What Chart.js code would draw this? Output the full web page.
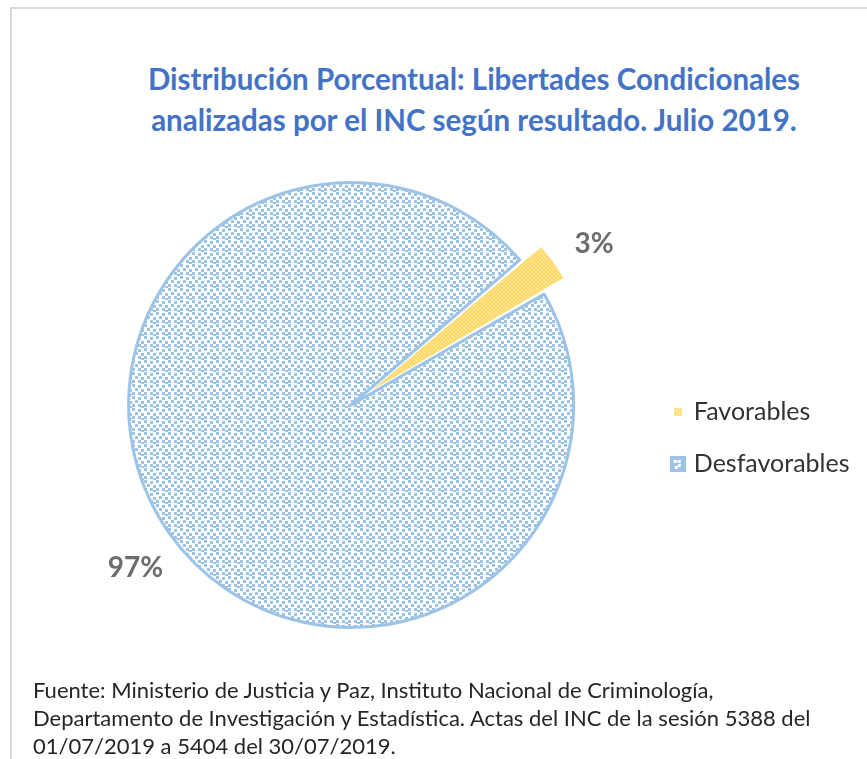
<!DOCTYPE html>
<html>
<head>
<meta charset="utf-8">
<script src="https://cdn.jsdelivr.net/npm/chart.js@4.4.0/dist/chart.umd.min.js"></script>
<style>
  body { margin: 0; background: #fff; width: 867px; height: 759px; overflow: hidden; position: relative; font-family: Lato, sans-serif; }
  #frame { position: absolute; left: 10px; top: 7px; width: 900px; height: 800px; border: 2px solid #d9d9d9; }
  #title { position: absolute; left: 74px; width: 800px; top: 58px; text-align: center; color: #4472c4; font-weight: bold; font-size: 29.5px; line-height: 41px; }
  #note { position: absolute; left: 33px; top: 676px; color: #262626; font-size: 22px; line-height: 28px; white-space: nowrap; }
  #chart { position: absolute; left: 0; top: 0; }
</style>
</head>
<body>
<div id="frame"></div>
<div id="title">Distribución Porcentual: Libertades Condicionales<br>analizadas por el INC según resultado. Julio 2019.</div>
<canvas id="chart" width="867" height="759"></canvas>
<div id="note">Fuente: Ministerio de Justicia y Paz, Instituto Nacional de Criminología,<br>Departamento de Investigación y Estadística. Actas del INC de la sesión 5388 del<br>01/07/2019 a 5404 del 30/07/2019.</div>
<script>
// data
var labels = ["Favorables", "Desfavorables"];
var values = [3, 97];

var yellow = "#ffd966";
var blue = "#9dc3e6";

// small tiles for the excel-like pattern fills
function makeTile(w, h, bg, fg, dots, size) {
  var c = document.createElement("canvas");
  c.width = w;
  c.height = h;
  var g = c.getContext("2d");
  g.fillStyle = bg;
  g.fillRect(0, 0, w, h);
  g.fillStyle = fg;
  dots.forEach(function (d) {
    g.fillRect(d[0], d[1], size, size);
  });
  return c;
}

var ctx = document.getElementById("chart").getContext("2d");
var favPattern = ctx.createPattern(makeTile(4, 4, yellow, "#ffffff", [[0, 0], [2, 2]], 1), "repeat");
var desPattern = ctx.createPattern(makeTile(12, 12, "#ffffff", blue,
  [[0, 0], [6, 1], [3, 4], [9, 5], [0, 8], [6, 8], [9, 10]], 3), "repeat");

// legend markers
var favMarker = makeTile(8, 8, "#ffe28a", "#ffffff", [[2, 2], [5, 5]], 1);
var desMarker = makeTile(16, 16, blue, "#ffffff", [[4, 4], [8, 4], [8, 8], [5, 10]], 3);
var markers = [favMarker, desMarker];

var total = values.reduce(function (a, b) { return a + b; }, 0);

// percent labels outside the slices (excel puts them a bit off the radial line)
var labelNudge = [[2, 6], [10, 0]];
var outsideLabels = {
  id: "outsideLabels",
  afterDatasetsDraw: function (chart) {
    var c = chart.ctx;
    var meta = chart.getDatasetMeta(0);
    c.save();
    c.font = "bold 28px Lato";
    c.fillStyle = "#6d6d6d";
    c.textAlign = "center";
    c.textBaseline = "middle";
    meta.data.forEach(function (arc, i) {
      var p = arc.getProps(["x", "y", "startAngle", "endAngle", "outerRadius", "circumference"]);
      var mid = (p.startAngle + p.endAngle) / 2;
      var off = (arc.options.offset || 0) / 4;
      var fix = 1 - Math.sin(Math.min(Math.PI, p.circumference));
      var edge = p.outerRadius + off + off * fix + arc.options.borderWidth / 2;
      var txt = Math.round(values[i] / total * 100) + "%";
      var w = c.measureText(txt).width;
      var h = 20;
      var cos = Math.cos(mid), sin = Math.sin(mid);
      var d = edge + 24 + Math.abs(cos) * w / 2 + Math.abs(sin) * h / 2;
      c.fillText(txt, p.x + cos * d + labelNudge[i][0], p.y + sin * d + 3 + labelNudge[i][1]);
    });
    c.restore();
  }
};

var myChart = new Chart(ctx, {
  type: "pie",
  data: {
    labels: labels,
    datasets: [{
      data: values,
      backgroundColor: [favPattern, desPattern],
      borderColor: ["#ffffff", blue],
      borderWidth: [2, 3],
      offset: [57, 0]
    }]
  },
  options: {
    responsive: false,
    animation: false,
    events: [],
    rotation: 49.3,
    radius: 222.5,
    layout: { padding: { left: 55, right: 7.5, top: 180, bottom: 129 } },
    plugins: {
      tooltip: { enabled: false },
      legend: {
        position: "right",
        title: { display: true, text: "", font: { size: 10 }, padding: { top: 54, bottom: 0 } },
        labels: {
          usePointStyle: true,
          pointStyleWidth: 7,
          padding: 27,
          color: "#333333",
          font: { family: "Lato", size: 25 },
          generateLabels: function (chart) {
            var items = Chart.overrides.pie.plugins.legend.labels.generateLabels(chart);
            items.forEach(function (it, i) { it.pointStyle = markers[i]; });
            return items;
          }
        }
      }
    }
  },
  plugins: [outsideLabels]
});
</script>
</body>
</html>
